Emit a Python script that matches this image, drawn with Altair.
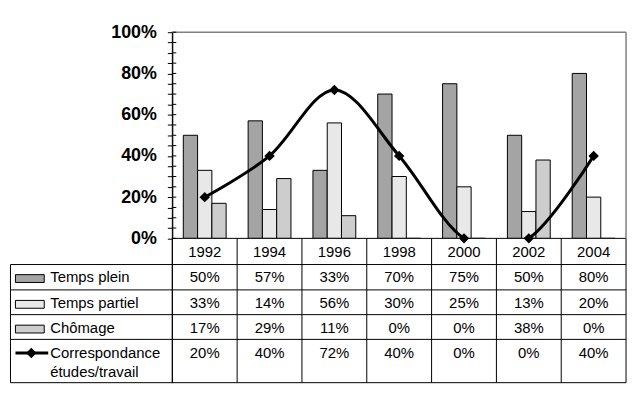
import altair as alt
import pandas as pd

# ---------------- data ----------------
years = ["1992", "1994", "1996", "1998", "2000", "2002", "2004"]
temps_plein = [50, 57, 33, 70, 75, 50, 80]
temps_partiel = [33, 14, 56, 30, 25, 13, 20]
chomage = [17, 29, 11, 0, 0, 38, 0]
correspondance = [20, 40, 72, 40, 0, 0, 40]
series_names = ["Temps plein", "Temps partiel", "Chômage", "Correspondance\nétudes/travail"]
y_tick_values = list(range(0, 101, 5))

# ---------------- layout / style ----------------
W, H = 457, 353
Y_DOMAIN = [-70, 100]
LEFT = -163
row_lines = [-12.7, -25.0, -37.0, -49.0, -70]
value_rows = [-19.0, -31.5, -43.5, -55.6]
label_rows = [-19.0, -31.5, -43.5, -55.6]
header_row = -6.4
bar_fills = ["#a4a4a4", "#e8e8e8", "#cdcdcd"]
FONT = "Liberation Sans"
FS = 15

yscale = alt.Scale(domain=Y_DOMAIN, nice=False, zero=False)
xscale = alt.Scale(domain=years, paddingInner=0, paddingOuter=0)
yaxis = alt.Axis(values=y_tick_values,
                 labelExpr="datum.value % 20 == 0 ? datum.value + '%' : ''",
                 tickSize=5, labelPadding=11, labelFont=FONT, labelFontSize=18,
                 labelFontWeight="bold", labelColor="black", domainColor="black",
                 tickColor="black", domainWidth=1, tickWidth=1, grid=False,
                 title=None, labelOverlap=False, orient="left")


def X(**kw):
    return alt.X("year:N", sort=years, scale=xscale, axis=None, **kw)


def Y(field):
    return alt.Y(field, type="quantitative", scale=yscale, axis=yaxis)


bar_series = series_names[:3]
bar_df = pd.DataFrame({
    "year": years * 3,
    "serie": [bar_series[0]] * len(years) + [bar_series[1]] * len(years) + [bar_series[2]] * len(years),
    "value": temps_plein + temps_partiel + chomage,
})

bars = alt.Chart(bar_df).mark_bar(stroke="black", strokeWidth=1, opacity=1).encode(
    x=X(),
    xOffset=alt.XOffset("serie:N", sort=bar_series,
                        scale=alt.Scale(paddingInner=0, paddingOuter=0.77)),
    y=Y("value"),
    color=alt.Color("serie:N", scale=alt.Scale(domain=bar_series, range=bar_fills), legend=None),
)

line_df = pd.DataFrame({"year": years, "value": correspondance})
line = alt.Chart(line_df).mark_line(color="black", strokeWidth=3, interpolate="cardinal").encode(
    x=X(), y=Y("value"))
points = alt.Chart(line_df).mark_point(shape="diamond", filled=True, size=110, color="black",
                                       opacity=1).encode(x=X(), y=Y("value"))

# white table background (hides the smoothed line dipping below 0)
cover_df = pd.DataFrame({"y": [0], "y2": [Y_DOMAIN[0]]})
cover = alt.Chart(cover_df).mark_rect(color="white").encode(
    x=alt.value(0), x2=alt.value(W), y=Y("y"), y2="y2")

# table grid
hline_df = pd.DataFrame({"y": row_lines})
hlines = alt.Chart(hline_df).mark_rule(color="black", strokeWidth=1).encode(
    x=alt.value(LEFT), x2=alt.value(W), y=Y("y"))
axis_line = alt.Chart(pd.DataFrame({"y": [0]})).mark_rule(color="black", strokeWidth=1).encode(
    x=alt.value(0), x2=alt.value(W), y=Y("y"))
vline_df = pd.DataFrame({"year": years, "y": [0] * len(years), "y2": [Y_DOMAIN[0]] * len(years)})
vlines = alt.Chart(vline_df).mark_rule(color="black", strokeWidth=1).encode(
    x=X(bandPosition=0), y=Y("y"), y2="y2")
right_line = alt.Chart(pd.DataFrame({"y": [0], "y2": [Y_DOMAIN[0]]})).mark_rule(
    color="black", strokeWidth=1).encode(x=alt.value(W), y=Y("y"), y2="y2")
left_line = alt.Chart(pd.DataFrame({"y": [row_lines[0]], "y2": [Y_DOMAIN[0]]})).mark_rule(
    color="black", strokeWidth=1).encode(x=alt.value(LEFT), y=Y("y"), y2="y2")
yaxis_line = alt.Chart(pd.DataFrame({"y": [100], "y2": [Y_DOMAIN[0]]})).mark_rule(
    color="black", strokeWidth=1).encode(x=alt.value(0), y=Y("y"), y2="y2")

# plot frame (gray top and right)
top_border = alt.Chart(pd.DataFrame({"y": [100]})).mark_rule(color="#808080", strokeWidth=1.5).encode(
    x=alt.value(0), x2=alt.value(W), y=Y("y"))
right_border = alt.Chart(pd.DataFrame({"y": [0], "y2": [100]})).mark_rule(
    color="#808080", strokeWidth=1.5).encode(x=alt.value(W), y=Y("y"), y2="y2")

# right half of the crossing ticks
tick_df = pd.DataFrame({"y": y_tick_values})
ticks_right = alt.Chart(tick_df).mark_rule(color="black", strokeWidth=1).encode(
    x=alt.value(0), x2=alt.value(4), y=Y("y"))

# header years
header_df = pd.DataFrame({"year": years, "y": [header_row] * len(years)})
header = alt.Chart(header_df).mark_text(font=FONT, fontSize=FS, color="black",
                                        baseline="middle", align="center").encode(
    x=X(), y=Y("y"), text="year:N")

# values
all_values = [temps_plein, temps_partiel, chomage, correspondance]
val_rows = []
for i, vals in enumerate(all_values):
    for yr, v in zip(years, vals):
        val_rows.append({"year": yr, "y": value_rows[i], "label": f"{v}%"})
val_df = pd.DataFrame(val_rows)
values_text = alt.Chart(val_df).mark_text(font=FONT, fontSize=FS, color="black",
                                          baseline="middle", align="center").encode(
    x=X(), y=Y("y"), text="label:N")

# legend column
leg_df = pd.DataFrame({"serie": series_names, "y": label_rows})
leg_text = alt.Chart(leg_df).mark_text(font=FONT, fontSize=FS, color="black", baseline="middle",
                                       align="left", lineBreak="\n", lineHeight=19).encode(
    x=alt.value(LEFT + 40), y=Y("y"), text="serie:N")

sw_df = pd.DataFrame({"serie": bar_series,
                      "y": [r - 0.5 - 1.9 for r in label_rows[:3]],
                      "y2": [r - 0.5 + 1.9 for r in label_rows[:3]]})
swatches = alt.Chart(sw_df).mark_rect(stroke="black", strokeWidth=1).encode(
    x=alt.value(LEFT + 5), x2=alt.value(LEFT + 34), y=Y("y"), y2="y2",
    color=alt.Color("serie:N", scale=alt.Scale(domain=bar_series, range=bar_fills), legend=None))

leg_line_df = pd.DataFrame({"y": [value_rows[3]]})
leg_line = alt.Chart(leg_line_df).mark_rule(color="black", strokeWidth=3).encode(
    x=alt.value(LEFT + 5), x2=alt.value(LEFT + 38), y=Y("y"))
leg_point = alt.Chart(leg_line_df).mark_point(shape="diamond", filled=True, size=110,
                                              color="black", opacity=1).encode(
    x=alt.value(LEFT + 21), y=Y("y"))

chart = alt.layer(
    bars, line, cover, points, hlines, axis_line, vlines, right_line, left_line, yaxis_line,
    top_border, right_border, ticks_right, header, values_text,
    swatches, leg_text, leg_line, leg_point,
).properties(
    width=W, height=H,
    padding={"left": 1.5, "top": 14, "right": 5, "bottom": 5},
    background="white",
).configure_view(strokeWidth=0)

chart.save("out.html", embed_options={"renderer": "svg", "actions": False})
